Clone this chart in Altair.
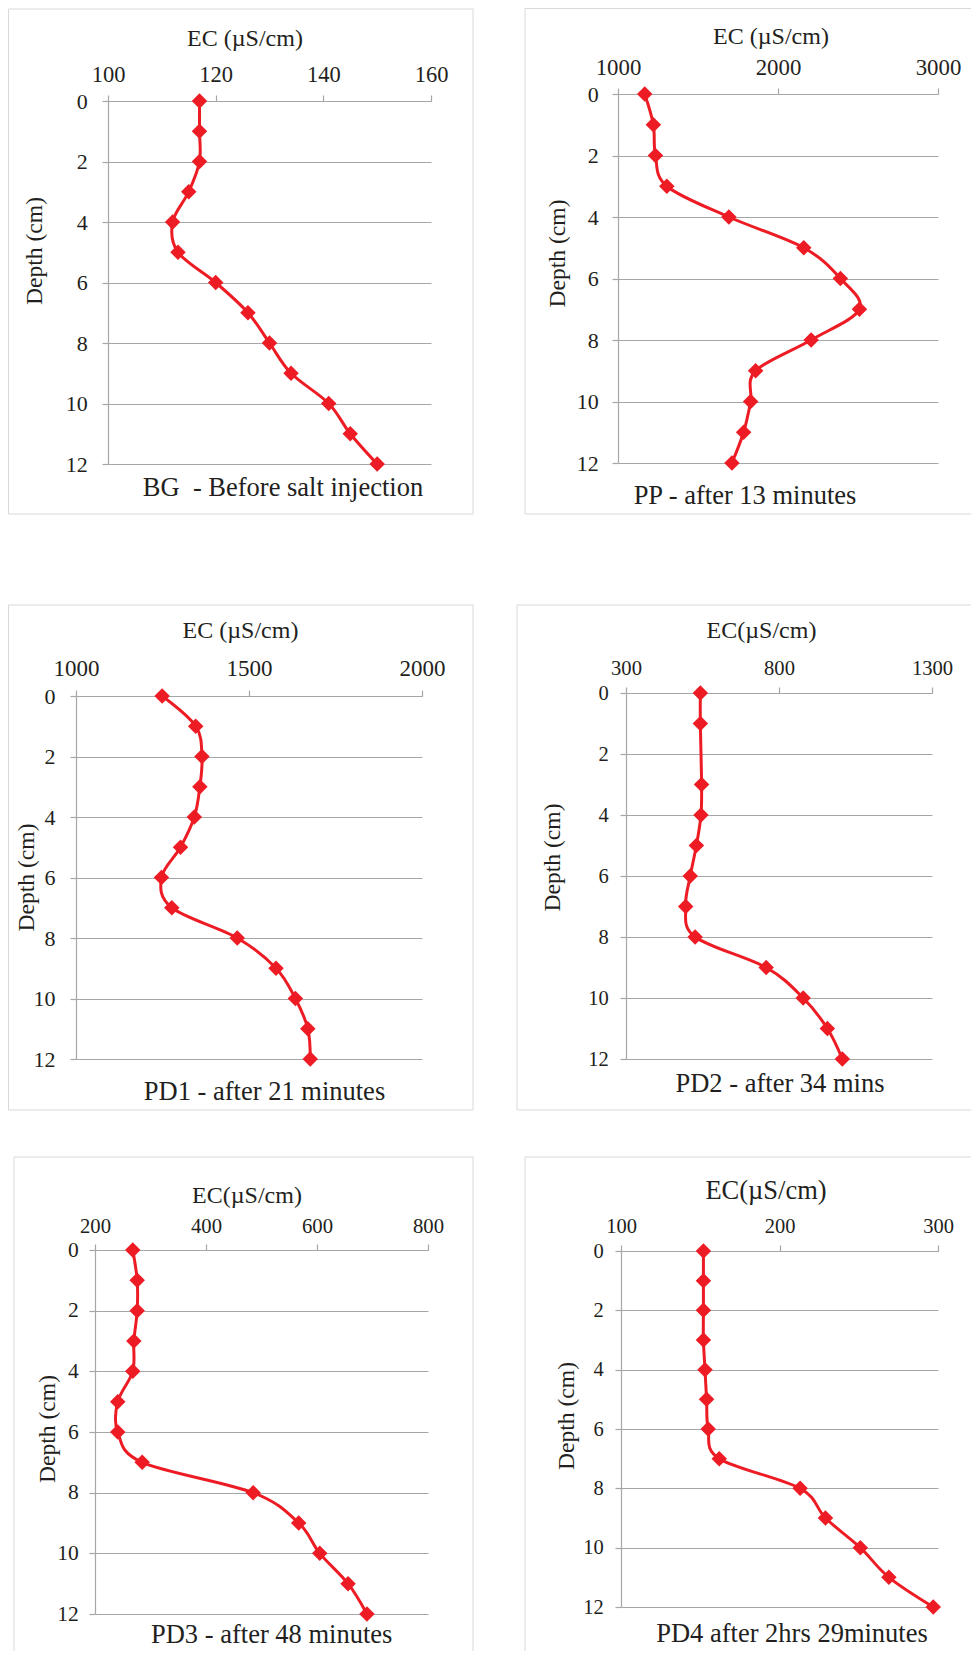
import altair as alt
import pandas as pd

FONT = "Liberation Serif"
TEXT = "#231f20"
GRID = "#a6a6a6"
BOX = "#d9d9d9"
RED = "#ed1c24"

# ---------------- data ----------------
depth = [0, 1, 2, 3, 4, 5, 6, 7, 8, 9, 10, 11, 12]
depth_ticks = [0, 2, 4, 6, 8, 10, 12]

bg_ec = [117, 117, 117, 115, 112, 113, 120, 126, 130, 134, 141, 145, 150]
pp_ec = [1167, 1221, 1234, 1305, 1693, 2161, 2390, 2509, 2207, 1860, 1829, 1785, 1712]
pd1_ec = [1249, 1346, 1364, 1358, 1342, 1302, 1247, 1277, 1466, 1578, 1634, 1670, 1677]
pd2_depth = [0, 1, 3, 4, 5, 6, 7, 8, 9, 10, 11, 12]
pd2_ec = [543, 543, 547, 545, 530, 510, 495, 526, 758, 879, 958, 1007]
pd3_ec = [268, 276, 276, 270, 268, 241, 241, 285, 485, 567, 605, 656, 690]
pd4_ec = [152, 152, 152, 152, 153, 154, 155, 162, 213, 229, 251, 269, 297]

bg_ticks = [100, 120, 140, 160]
pp_ticks = [1000, 2000, 3000]
pd1_ticks = [1000, 1500, 2000]
pd2_ticks = [300, 800, 1300]
pd3_ticks = [200, 400, 600, 800]
pd4_ticks = [100, 200, 300]

x_titles = ["EC (µS/cm)", "EC (µS/cm)", "EC (µS/cm)", "EC(µS/cm)", "EC(µS/cm)", "EC(µS/cm)"]
y_title = "Depth (cm)"
captions = [
    "BG \u00a0- Before salt injection",
    "PP - after 13 minutes",
    "PD1 - after 21 minutes",
    "PD2 - after 34 mins",
    "PD3 - after 48 minutes",
    "PD4 after 2hrs 29minutes",
]

# ---------------- layout (page pixels; page margin is 8) ----------------
M = 8
VIEW_W, VIEW_H = 963, 1643

# plot area: (left, right, top, bottom)
plots = [
    (108, 431, 101, 464),
    (618, 938, 94, 463),
    (76, 422, 696, 1059),
    (626, 932, 693, 1059),
    (95, 428, 1250, 1614),
    (621, 938, 1251, 1607),
]
# panel frame: (left, right, top, bottom); None = edge cut off by the figure border
frames = [
    (8.5, 473, 9, 514),
    (525, None, 8.5, 514),
    (8.5, 473, 605, 1110),
    (517, None, 605, 1110),
    (14, 473, 1157, None),
    (525, None, 1157, None),
]
# text placement: x-title (cx, baseline, size), y-title (cx, cy), caption (cx, baseline)
xtitle_pos = [(245, 46, 24), (771, 44.3, 24), (240.5, 638.3, 24),
              (761.5, 638.3, 24), (247, 1203.3, 24), (766, 1199.3, 26.5)]
ytitle_pos = [(35, 251), (558, 253.5), (27, 877.5), (553, 857.5), (48, 1429), (567, 1416)]
caption_pos = [(283, 496), (745, 504), (264.5, 1100), (780, 1091.7), (271.7, 1642.5), (792, 1641.5)]
# tick label styling: (x label font, gap baseline->plot top, y label font, gap label->plot left)
tick_style = [(22.5, 20, 22, 20.7), (22.8, 20, 22, 19.7), (23, 21, 22, 21),
              (20.6, 19, 20.5, 17.7), (20.7, 17.3, 21.5, 16.7), (20.5, 18.3, 20.5, 17.7)]

series = [
    (depth, bg_ec, bg_ticks),
    (depth, pp_ec, pp_ticks),
    (depth, pd1_ec, pd1_ticks),
    (pd2_depth, pd2_ec, pd2_ticks),
    (depth, pd3_ec, pd3_ticks),
    (depth, pd4_ec, pd4_ticks),
]

ONE = pd.DataFrame({"k": [0]})


def rule(x1, x2, y1, y2):
    return alt.Chart(ONE).mark_rule(color=BOX, strokeWidth=1).encode(
        x=alt.value(x1 - M), x2=alt.value(x2 - M), y=alt.value(y1 - M), y2=alt.value(y2 - M)
    )


def text(s, x, y, size, angle=0, baseline="alphabetic"):
    return alt.Chart(ONE).mark_text(
        text=s, font=FONT, fontSize=size, color=TEXT, align="center",
        baseline=baseline, angle=angle,
    ).encode(x=alt.value(x - M), y=alt.value(y - M))


layers = []
deco = []
for i, (dep, ec, ticks) in enumerate(series):
    px0, px1, py0, py1 = plots[i]
    xfs, xgap, yfs, ygap = tick_style[i]
    df = pd.DataFrame({"Depth": dep, "EC": ec})
    xscale = alt.Scale(domain=[ticks[0], ticks[-1]], range=[px0 - M, px1 - M], nice=False, zero=False)
    yscale = alt.Scale(domain=[0, 12], range=[py0 - M, py1 - M], nice=False, zero=False)
    x_axis = alt.Axis(
        orient="top", offset=-(py0 - M), values=ticks, format="d", grid=False,
        tickSize=6, labelPadding=xgap - 6, labelBaseline="alphabetic",
        labelFontSize=xfs, labelFlush=False, labelOverlap=False, title=None,
    )
    y_axis = alt.Axis(
        orient="left", offset=-(px0 - M), values=depth_ticks, format="d", grid=True,
        tickSize=6, labelPadding=ygap - 6, labelFontSize=yfs, labelFlush=False,
        labelOverlap=False, title=None,
    )
    line = alt.Chart(df).mark_line(
        color=RED, strokeWidth=3, interpolate="cardinal", tension=0
    ).encode(
        x=alt.X("EC:Q", scale=xscale, axis=x_axis),
        y=alt.Y("Depth:Q", scale=yscale, axis=y_axis),
        order="Depth:Q",
    )
    pts = alt.Chart(df).mark_point(
        shape="diamond", filled=True, size=240, color=RED, opacity=1
    ).encode(
        x=alt.X("EC:Q", scale=xscale, axis=None),
        y=alt.Y("Depth:Q", scale=yscale, axis=None),
    )
    layers += [line, pts]

    fl, fr, ft, fb = frames[i]
    right = fr if fr is not None else M + VIEW_W
    bottom = fb if fb is not None else M + VIEW_H
    deco.append(rule(fl, right, ft, ft))
    deco.append(rule(fl, fl, ft, bottom))
    if fb is not None:
        deco.append(rule(fl, right, fb, fb))
    if fr is not None:
        deco.append(rule(fr, fr, ft, bottom))

    tx, ty, ts = xtitle_pos[i]
    deco.append(text(x_titles[i], tx, ty, ts))
    yx, yy = ytitle_pos[i]
    deco.append(text(y_title, yx, yy, 23.6, angle=270, baseline="middle"))
    cx, cy = caption_pos[i]
    deco.append(text(captions[i], cx, cy, 26.5))

chart = (
    alt.layer(*deco, *layers)
    .resolve_scale(x="independent", y="independent")
    .resolve_axis(x="independent", y="independent")
    .properties(
        width=VIEW_W, height=VIEW_H, padding=0, background="white",
        autosize=alt.AutoSizeParams(type="none"),
    )
    .configure_view(stroke="transparent")
    .configure_axis(
        labelFont=FONT, titleFont=FONT, labelColor=TEXT, titleColor=TEXT,
        domainColor=GRID, tickColor=GRID, gridColor=GRID,
        domainWidth=1.2, tickWidth=1.2, gridWidth=1.2,
    )
)

chart.save("out.html", embed_options={"renderer": "svg", "actions": False})
